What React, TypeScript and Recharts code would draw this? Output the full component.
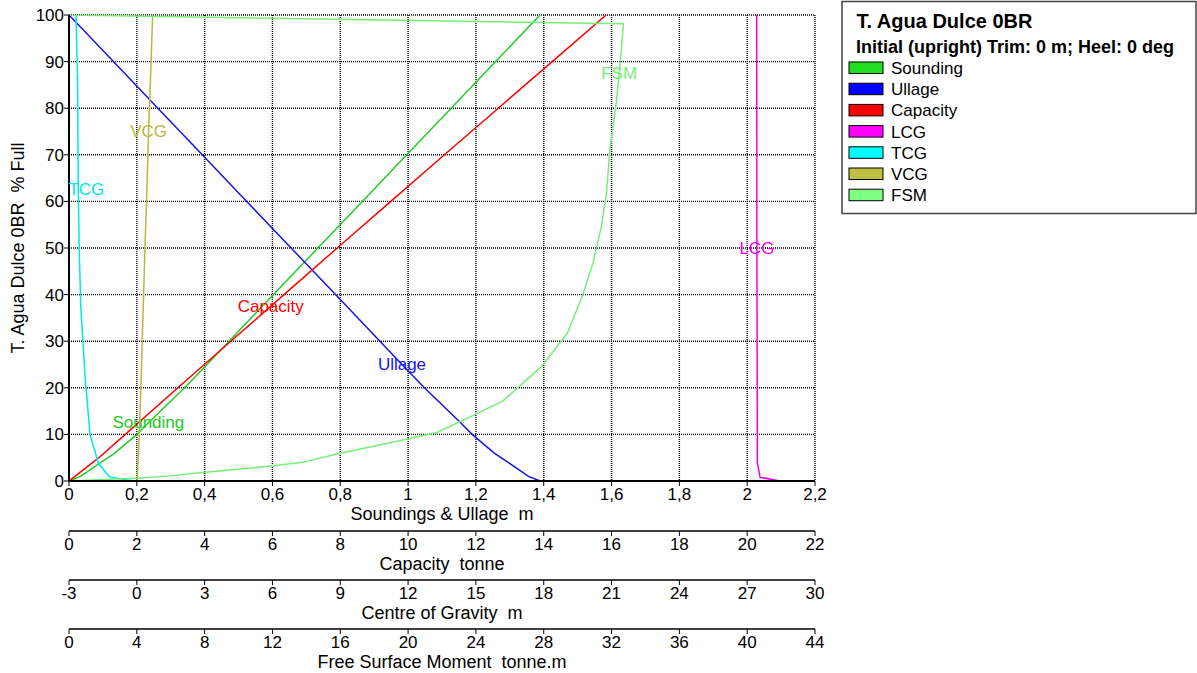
import React from 'react'
import { LineChart, Line, XAxis, YAxis, CartesianGrid } from 'recharts'

const FONT = '"Liberation Sans", Arial, sans-serif'

// axis ticks
const pctTicks = [0, 10, 20, 30, 40, 50, 60, 70, 80, 90, 100]
const sndTicks = [0, 0.2, 0.4, 0.6, 0.8, 1, 1.2, 1.4, 1.6, 1.8, 2, 2.2]
const capTicks = [0, 2, 4, 6, 8, 10, 12, 14, 16, 18, 20, 22]
const cgTicks = [-3, 0, 3, 6, 9, 12, 15, 18, 21, 24, 27, 30]
const fsmTicks = [0, 4, 8, 12, 16, 20, 24, 28, 32, 36, 40, 44]

// Sounding / Ullage (m) against % full
const levelPct = [0, 1, 4, 6, 10, 12.5, 20, 25, 30, 40, 50, 60, 70, 80, 90, 100]
const soundingM = [0, 0.034, 0.094, 0.135, 0.2, 0.234, 0.341, 0.407, 0.472, 0.603, 0.734, 0.865, 0.996, 1.127, 1.258, 1.389]
const ullageM = [1.389, 1.355, 1.295, 1.254, 1.189, 1.155, 1.048, 0.982, 0.917, 0.786, 0.655, 0.524, 0.393, 0.262, 0.131, 0]

// Capacity (tonne)
const capPct = [0, 5, 10, 20, 30, 37.5, 40, 50, 60, 70, 80, 90, 100]
const capT = [0, 0.88, 1.66, 3.21, 4.77, 5.95, 6.34, 7.91, 9.49, 11.07, 12.66, 14.25, 15.84]

// Centres of gravity (m)
const lcgPct = [0, 0.8, 4, 50, 100]
const lcgM = [28.45, 27.57, 27.45, 27.43, 27.42]
const tcgPct = [0, 0.2, 0.9, 3.8, 10, 22.5, 37.5, 50, 62.5, 86, 100]
const tcgM = [0, -0.45, -1.22, -1.7, -2.07, -2.29, -2.48, -2.55, -2.59, -2.62, -2.69]
const vcgPct = [0, 1, 5, 10, 20, 30, 40, 50, 60, 70, 75, 80, 90, 100]
const vcgM = [0, 0.02, 0.07, 0.11, 0.18, 0.24, 0.3, 0.36, 0.43, 0.49, 0.52, 0.56, 0.63, 0.7]

// Free surface moment (tonne.m)
const fsmPct = [0, 0.3, 0.6, 1.1, 1.8, 3.2, 4, 5.8, 8.8, 10.4, 14.2, 17.2, 24.7, 31.8, 39.9, 46.7, 54.6, 61.7, 71, 81.8, 87.5, 89.3, 98.1, 100]
const fsmTm = [0, 2, 4, 6, 7.9, 11.9, 13.8, 15.8, 19.7, 21.7, 23.9, 25.6, 27.9, 29.4, 30.3, 30.9, 31.4, 31.7, 31.9, 32.3, 32.45, 32.5, 32.7, 0]

const PLOT_LEFT = 69

// axis ids sort alphabetically when recharts stacks the bottom axes
const AX_SND = 'a_snd'
const AX_CAP = 'b_cap'
const AX_CG = 'c_cg'
const AX_FSM = 'd_fsm'

const toPoints = (pct: number[], vals: number[]) => pct.map((y, i) => ({ x: vals[i], y }))

const series = [
  { name: 'Sounding', color: '#22cc22', swatch: '#22dd22', axis: AX_SND, data: toPoints(levelPct, soundingM), labelAt: levelPct.indexOf(12.5) },
  { name: 'Ullage', color: '#1515e6', swatch: '#0000ff', axis: AX_SND, data: toPoints(levelPct, ullageM), labelAt: levelPct.indexOf(25) },
  { name: 'Capacity', color: '#ff0000', swatch: '#ff0000', axis: AX_CAP, data: toPoints(capPct, capT), labelAt: capPct.indexOf(37.5) },
  { name: 'LCG', color: '#ee00ee', swatch: '#ff00ff', axis: AX_CG, data: toPoints(lcgPct, lcgM), labelAt: lcgPct.indexOf(50) },
  { name: 'TCG', color: '#00e8e8', swatch: '#00ffff', axis: AX_CG, data: toPoints(tcgPct, tcgM), labelAt: tcgPct.indexOf(62.5) },
  { name: 'VCG', color: '#b8b840', swatch: '#c0c040', axis: AX_CG, data: toPoints(vcgPct, vcgM), labelAt: vcgPct.indexOf(75) },
  { name: 'FSM', color: '#77ee77', swatch: '#80ff80', axis: AX_FSM, data: toPoints(fsmPct, fsmTm), labelAt: fsmPct.indexOf(87.5) },
]

const comma = (v: number) => String(v).replace('.', ',')

const seriesLabel = (name: string, color: string, at: number) => (props: any) => {
  if (props.index !== at) return null
  const half = name.length * 5.8
  const cx = Math.max(Number(props.x), PLOT_LEFT + half)
  return (
    <text x={cx} y={props.y} textAnchor="middle" dominantBaseline="central" fontSize={17} fill={color} fontFamily={FONT}>
      {name}
    </text>
  )
}

const axisTitle = (title: string) => (props: any) => {
  const vb = props.viewBox
  return (
    <text x={vb.x + vb.width / 2} y={vb.y + 33} textAnchor="middle" dominantBaseline="central" fontSize={18} fill="#000" fontFamily={FONT} style={{ whiteSpace: 'pre' }}>
      {title}
    </text>
  )
}

const yTitle = (props: any) => {
  const vb = props.viewBox
  const cy = vb.y + vb.height / 2
  return (
    <text x={18} y={cy} transform={`rotate(-90, 18, ${cy})`} textAnchor="middle" dominantBaseline="central" fontSize={18} fill="#000" fontFamily={FONT} style={{ whiteSpace: 'pre' }}>
      T. Agua Dulce 0BR  % Full
    </text>
  )
}

const tickStyle = { fontSize: 17, fill: '#000', fontFamily: FONT }

function LegendBox() {
  return (
    <svg width={356} height={215} style={{ position: 'absolute', left: 841, top: 0 }}>
      <rect x={1} y={1.5} width={354} height={212} fill="#fff" stroke="#444" strokeWidth={1.5} />
      <text x={15.5} y={28} fontSize={20} fontWeight="bold" fontFamily={FONT}>T. Agua Dulce 0BR</text>
      <text x={15} y={53} fontSize={18} fontWeight="bold" fontFamily={FONT}>Initial (upright) Trim: 0 m; Heel: 0 deg</text>
      {series.map((s, i) => (
        <g key={s.name}>
          <rect x={8} y={62 + i * 21.2} width={34} height={11.5} fill={s.swatch} stroke="#000" strokeWidth={1} />
          <text x={50} y={74 + i * 21.2} fontSize={17} fontFamily={FONT}>{s.name}</text>
        </g>
      ))}
    </svg>
  )
}

export default function App() {
  return (
    <div style={{ position: 'absolute', left: 0, top: 0, width: 1197, height: 673, background: '#fff' }}>
      <LineChart width={1197} height={673} margin={{ top: 15, right: 382, bottom: 0, left: 0 }}>
        <CartesianGrid xAxisId={AX_SND} stroke="#000" strokeDasharray="1 1" strokeWidth={1.4} />
        <XAxis
          xAxisId={AX_SND}
          type="number"
          dataKey="x"
          domain={[0, 2.2]}
          ticks={sndTicks}
          interval={0}
          allowDataOverflow
          height={50}
          tickFormatter={comma}
          tick={tickStyle}
          tickSize={5}
          tickMargin={2}
          axisLine={{ stroke: '#000', strokeWidth: 2 }}
          tickLine={{ stroke: '#000' }}
          label={axisTitle('Soundings & Ullage  m')}
        />
        <XAxis
          xAxisId={AX_CAP}
          type="number"
          dataKey="x"
          domain={[0, 22]}
          ticks={capTicks}
          interval={0}
          allowDataOverflow
          height={49}
          tick={tickStyle}
          tickSize={5}
          tickMargin={2}
          axisLine={{ stroke: '#000', strokeWidth: 1.5 }}
          tickLine={{ stroke: '#000' }}
          label={axisTitle('Capacity  tonne')}
        />
        <XAxis
          xAxisId={AX_CG}
          type="number"
          dataKey="x"
          domain={[-3, 30]}
          ticks={cgTicks}
          interval={0}
          allowDataOverflow
          height={49}
          tick={tickStyle}
          tickSize={5}
          tickMargin={2}
          axisLine={{ stroke: '#000', strokeWidth: 1.5 }}
          tickLine={{ stroke: '#000' }}
          label={axisTitle('Centre of Gravity  m')}
        />
        <XAxis
          xAxisId={AX_FSM}
          type="number"
          dataKey="x"
          domain={[0, 44]}
          ticks={fsmTicks}
          interval={0}
          allowDataOverflow
          height={44}
          tick={tickStyle}
          tickSize={5}
          tickMargin={2}
          axisLine={{ stroke: '#000', strokeWidth: 1.5 }}
          tickLine={{ stroke: '#000' }}
          label={axisTitle('Free Surface Moment  tonne.m')}
        />
        <YAxis
          type="number"
          domain={[0, 100]}
          ticks={pctTicks}
          interval={0}
          allowDataOverflow
          width={69}
          tick={tickStyle}
          tickSize={5}
          tickMargin={0}
          axisLine={{ stroke: '#000', strokeWidth: 2 }}
          tickLine={{ stroke: '#000' }}
          label={yTitle}
        />
        {series.map((s) => (
          <Line
            key={s.name}
            data={s.data}
            xAxisId={s.axis}
            dataKey="y"
            type="linear"
            stroke={s.color}
            strokeWidth={1.5}
            dot={false}
            activeDot={false}
            isAnimationActive={false}
            label={seriesLabel(s.name, s.color, s.labelAt)}
          />
        ))}
      </LineChart>
      <LegendBox />
    </div>
  )
}
